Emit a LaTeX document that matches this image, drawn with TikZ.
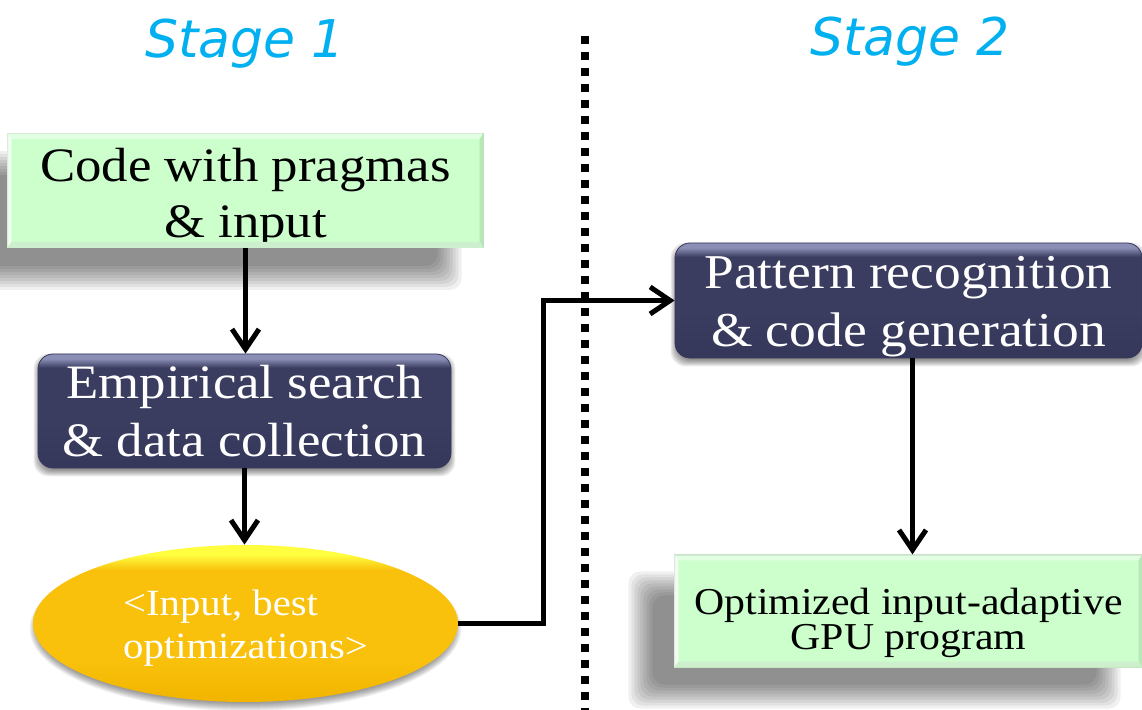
\documentclass[tikz,border=0pt]{standalone}
\usepackage{fontspec}
\usetikzlibrary{arrows.meta,calc,shapes.geometric,backgrounds}
\newfontfamily\boxfont{Liberation Serif}[FakeStretch=1.1]
\newfontfamily\titlefont{DejaVu Sans}

\definecolor{stageblue}{HTML}{00B0F0}
\definecolor{mint}{HTML}{CCFFCC}
\definecolor{mintedge}{HTML}{B2D8B2}
\definecolor{mintdark}{HTML}{B8E8B8}
\definecolor{navy}{HTML}{3B3D60}
\definecolor{navylow}{HTML}{36385B}
\definecolor{navyhi}{HTML}{8B8FB6}
\definecolor{gold}{HTML}{F9C10C}
\definecolor{golddk}{HTML}{F2B600}
\definecolor{goldhi}{HTML}{FFFF40}

% dark panel: flat body with a light rim along the top edge
\pgfdeclareverticalshading{navybevel}{100bp}{color(0bp)=(navylow); color(27bp)=(navylow); color(45bp)=(navy); color(69bp)=(navy); color(73bp)=(navyhi); color(100bp)=(navyhi)}
% gold oval: warm body, bright yellow rim on top
\pgfdeclareverticalshading{goldbevel}{100bp}{color(0bp)=(golddk); color(27bp)=(golddk); color(38bp)=(gold); color(67bp)=(gold); color(72bp)=(goldhi); color(100bp)=(goldhi)}

\pgfdeclarelayer{paper}
\pgfsetlayers{paper,background,main}

\tikzset{
  greenbox/.style={draw=mintedge, line width=0.6pt, fill=mint, inner sep=0pt,
    align=center, text=black},
  navybox/.style={rounded corners=7.5pt, shade, shading=navybevel, draw=navylow,
    line width=0.4pt, inner sep=0pt, align=center, text=white,
    font={\boxfont\fontsize{24}{29}\selectfont}},
  goldoval/.style={ellipse, shade, shading=goldbevel, inner sep=0pt, align=left,
    text=white, font={\boxfont\fontsize{18.5}{21.5}\selectfont}},
  stagetitle/.style={anchor=base, text=stageblue, inner sep=0pt,
    font={\titlefont\itshape\fontsize{26}{30}\selectfont}},
  conn/.style={line width=2.5pt, -{Straight Barb[length=10pt, width=13.5pt]}},
  divider/.style={line width=4pt, dash pattern=on 4pt off 4pt}
}

% invisible strut that sets the height of a label's first line
\newcommand\toppad[1]{\rule{0pt}{#1}}

% soft drop shadow behind a box: stacked translucent rectangles
% #1 node, #2/#3 offset, #4 blur radius, #5 opacity of one layer, #6 corner radius
\newcommand\softshade[6]{%
  \begin{pgfonlayer}{background}
    \foreach \k in {0,...,8}{%
      \pgfmathsetmacro\inset{-#4+#4*\k/4}%
      \fill[black, opacity=#5, rounded corners=#6]
        ($(#1.north west)+(#2+\inset,#3+\inset)$)
        rectangle ($(#1.south east)+(#2-\inset,#3-\inset)$);
    }
  \end{pgfonlayer}}

% the same for an oval
\newcommand\softovalshade[6]{%
  \begin{pgfonlayer}{background}
    \foreach \k in {0,...,8}{%
      \pgfmathsetmacro\inset{-#4+#4*\k/4}%
      \fill[black, opacity=#5] ($(#1.center)+(#2,#3)$)
        ellipse [x radius=#6-\inset, y radius=(#6*0.37)-\inset];
    }
  \end{pgfonlayer}}

% bevelled edges of a light green box
\newcommand\mintbevel[1]{%
  \fill[white, opacity=0.8] (#1.north west) -- ++(4,6) -- ($(#1.south west)+(4,-6)$) -- (#1.south west) -- cycle;
  \fill[white, opacity=0.45] (#1.north west) -- (#1.north east) -- ++(-4,6) -- ($(#1.north west)+(4,6)$) -- cycle;
  \fill[mintdark] (#1.north east) -- ++(-4,6) -- ($(#1.south east)+(-4,-6)$) -- (#1.south east) -- cycle;
  \fill[mintdark!70] (#1.south west) -- (#1.south east) -- ++(-4,-6) -- ($(#1.south west)+(4,-6)$) -- cycle;
}

\begin{document}
\begin{tikzpicture}[x=0.5pt, y=-0.5pt]
  \begin{pgfonlayer}{paper}
    \fill[white] (0,0) rectangle (1142,710);
  \end{pgfonlayer}
  \useasboundingbox (0,0) rectangle (1142,710);

  % stage headings
  \node[stagetitle] (stage1) at (245,58) {Stage 1};
  \node[stagetitle] (stage2) at (910,56) {Stage 2};

  % divider between the two stages
  \coordinate (divtop) at (585,36);
  \coordinate (divbot) at (585,716);
  \draw[divider] (divtop) -- (divbot);

  % stage 1
  \node[greenbox, minimum width=237.5pt, minimum height=55.5pt,
        font={\boxfont\fontsize{24}{28}\selectfont}]
        (code) at (245.5,190.5) {\toppad{23.7pt}Code with pragmas\\\& input};
  \mintbevel{code}
  \softshade{code}{-34}{30}{12}{0.06}{6pt}

  \node[navybox, minimum width=206.5pt, minimum height=57pt]
        (search) at (244.5,411) {Empirical search\\\& data collection};
  \softshade{search}{0}{4}{4}{0.07}{7.5pt}

  \node[goldoval, minimum width=212.5pt, minimum height=78.5pt]
        (pairs) at (245.5,623.5) {\toppad{17pt}<Input, best\\optimizations>};
  \softovalshade{pairs}{0}{5}{4}{0.05}{212}

  % stage 2
  \node[navybox, minimum width=233.5pt, minimum height=57.5pt,
        font={\boxfont\fontsize{24.3}{29}\selectfont}]
        (pattern) at (908.5,300.5) {\toppad{22.7pt}Pattern recognition\\\& code generation};
  \softshade{pattern}{0}{4}{4}{0.07}{7.5pt}

  \node[greenbox, minimum width=233.5pt, minimum height=56pt,
        font={\boxfont\fontsize{19}{17.5}\selectfont}]
        (gpu) at (908.5,611) {\toppad{25.6pt}Optimized input-adaptive\\GPU program};
  \mintbevel{gpu}
  \softshade{gpu}{-34}{29}{12}{0.06}{6pt}

  % connectors
  \draw[conn] (code.south) -- (code.south |- search.north);
  \draw[conn] (search.south) -- (search.south |- pairs.north);
  \coordinate (turn) at (543,623.5);
  \draw[conn] (pairs.east) -- (turn) |- (pattern.west);
  \draw[conn] ([xshift=2pt]pattern.south) -- ([xshift=2pt]pattern.south |- gpu.north);
\end{tikzpicture}
\end{document}
